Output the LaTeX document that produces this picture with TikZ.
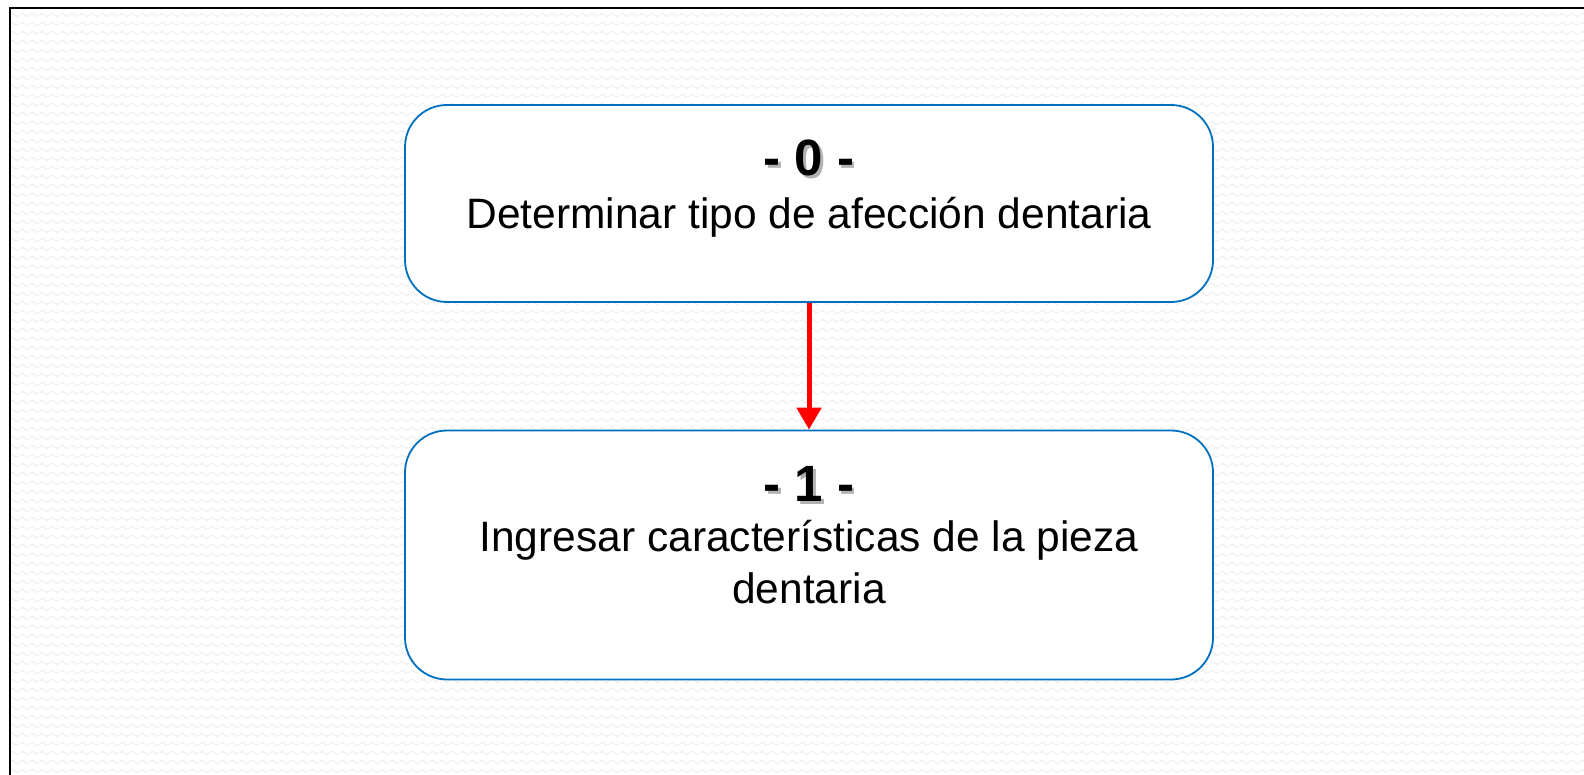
\documentclass[tikz,border=0pt]{standalone}
\usepackage{fontspec}
\setmainfont{Liberation Sans}
\usetikzlibrary{arrows.meta,patterns}
\definecolor{boxblue}{HTML}{0070C0}
\definecolor{wavegray}{HTML}{EBEBEB}
\pgfdeclarepatternformonly{bgwaves}{\pgfpointorigin}{\pgfpoint{10pt}{9pt}}{\pgfpoint{10pt}{9pt}}{
  \pgfsetlinewidth{0.8pt}
  \pgfpathmoveto{\pgfpoint{0pt}{4.5pt}}
  \pgfpathlineto{\pgfpoint{2.5pt}{6.5pt}}
  \pgfpathlineto{\pgfpoint{5pt}{4.5pt}}
  \pgfpathlineto{\pgfpoint{7.5pt}{2.5pt}}
  \pgfpathlineto{\pgfpoint{10pt}{4.5pt}}
  \pgfusepath{stroke}
}
\begin{document}
\begin{tikzpicture}[x=1pt,y=-1pt,
  procbox/.style={draw=boxblue,line width=1.8pt,fill=white,rounded corners=42pt,inner sep=0pt},
  titletext/.style={font=\fontsize{51}{58}\selectfont\bfseries,inner sep=0pt},
  shadowtext/.style={font=\fontsize{51}{58}\selectfont\bfseries,inner sep=0pt,text=black!30},
  bodytext/.style={font=\fontsize{42.5}{52}\selectfont,align=center,inner sep=0pt},
  flowarrow/.style={draw=red,line width=5pt,-{Triangle[width=24pt,length=22pt]}}
]
\useasboundingbox (0,0) rectangle (1584,775);
\fill[white] (0,0) rectangle (1584,775);
\fill[pattern=bgwaves,pattern color=wavegray] (10,8) rectangle (1584,775);
\draw[black,line width=2.5pt] (10,775) -- (10,8) -- (1584,8);

\node[procbox,minimum width=808pt,minimum height=197pt] (b0) at (809,203.5) {};
\node[procbox,minimum width=808pt,minimum height=249pt] (b1) at (809,555) {};

\node[shadowtext] (s0) at (811.5,160.5) {- 0 -};
\node[titletext] (t0) at (809,158) {- 0 -};
\node[bodytext] (d0) at (809,217) {Determinar tipo de afección dentaria};

\node[shadowtext] (s1) at (811.5,486.5) {- 1 -};
\node[titletext] (t1) at (809,484) {- 1 -};
\node[bodytext] (d1) at (809,562) {Ingresar características de la pieza\\dentaria};

\draw[flowarrow] (b0.south) -- (b1.north);
\end{tikzpicture}
\end{document}
